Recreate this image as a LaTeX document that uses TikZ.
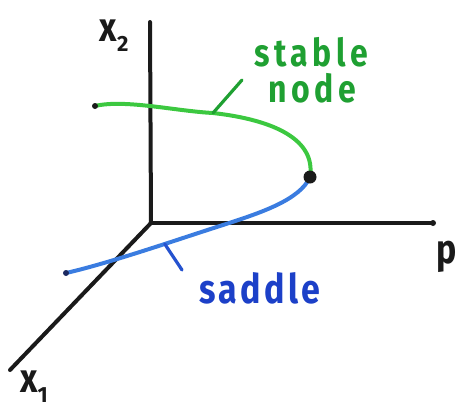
\documentclass[tikz,border=0pt]{standalone}
\usepackage{fontspec}
\setmainfont{Fira Sans}
\definecolor{gcurve}{HTML}{3CC840}
\definecolor{gtext}{HTML}{1FA032}
\definecolor{bcurve}{HTML}{3A7CE0}
\definecolor{btext}{HTML}{1C40C8}
\definecolor{ink}{HTML}{1A1A1A}
\newcommand{\tall}[1]{\scalebox{1}[1.2]{#1}}
\begin{document}
\begin{tikzpicture}[x=1pt,y=-1pt,
  axis/.style={ink,line width=4pt,line cap=round},
  gline/.style={gcurve,line width=4pt,line cap=round},
  bline/.style={bcurve,line width=4pt,line cap=round},
  lbl/.style={inner sep=0pt,font=\fontsize{34}{36}\selectfont\bfseries}]
\useasboundingbox (0,0) rectangle (461,408);
% axes
\coordinate (O) at (151,223);
\coordinate (Xtop) at (150,22);
\coordinate (Pend) at (433,223);
\coordinate (X1end) at (10,370);
\draw[axis] (O) -- (Xtop);
\draw[axis] (O) -- (Pend);
\draw[axis] (O) -- (X1end);
\fill[ink] (Pend) circle[radius=3pt];
% labels
\node[lbl,ink] (lx2) at (114,36) {\tall{x}\raisebox{-0.3em}{\fontsize{22}{24}\selectfont 2}};
\node[lbl,ink] (lx1) at (34,387) {\tall{x}\raisebox{-0.3em}{\fontsize{22}{24}\selectfont 1}};
\node[lbl,ink] (lp) at (447,257) {\tall{p}};
% green branch
\coordinate (gs) at (95,106);
\coordinate (gm) at (213,113);
\coordinate (bif) at (310,177);
\draw[gline] (gs) .. controls (125,99) and (175,111) .. (gm)
  .. controls (275,120) and (316,140) .. (bif);
% blue branch
\coordinate (bs) at (66,273);
\draw[bline] (bif) .. controls (300,200) and (260,213) .. (223,225)
  .. controls (179,239) and (110,263) .. (bs) coordinate[pos=0.38] (bm);
\fill[ink] (gs) circle[radius=3pt];
\fill[ink!60!btext] (bs) circle[radius=3pt];
\fill[ink] (bif) circle[radius=6.5pt];
% labels with leader lines
\node[lbl,gtext,font=\fontsize{32}{34}\selectfont\bfseries\addfontfeature{LetterSpace=14}] (stab) at (311,52) {\tall{stable}};
\node[lbl,gtext,font=\fontsize{32}{34}\selectfont\bfseries\addfontfeature{LetterSpace=14}] (nod) at (312,88) {\tall{node}};
\coordinate (gt) at (242,80);
\draw[gtext,line width=3.2pt,line cap=round] (gm) -- (gt);
\node[lbl,btext,font=\fontsize{34}{36}\selectfont\bfseries\addfontfeature{LetterSpace=10}] (sad) at (260,288) {\tall{saddle}};
\coordinate (bt) at (182,270);
\draw[btext!70!bcurve,line width=3.2pt,line cap=round] (bm) -- (bt);
\end{tikzpicture}
\end{document}
